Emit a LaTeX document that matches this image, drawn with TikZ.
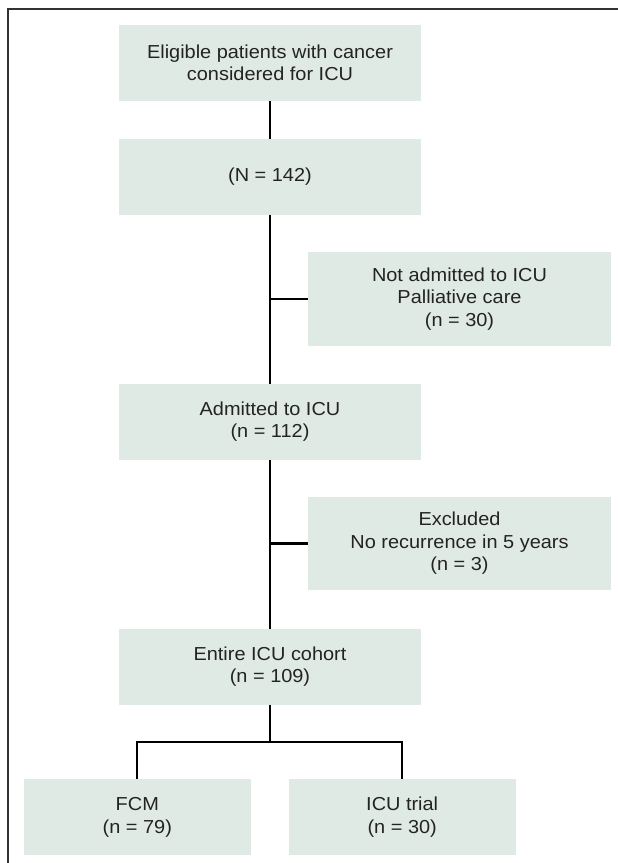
\documentclass[tikz,border=0pt]{standalone}
\usepackage{fontspec}
\setmainfont{Liberation Sans}[FakeStretch=1.06]
\definecolor{boxfill}{RGB}{224,234,229}
\definecolor{boxtext}{RGB}{35,35,35}
\definecolor{framegray}{RGB}{50,50,50}
\begin{document}
\begin{tikzpicture}[x=1pt, y=-1pt,
  box/.style={fill=boxfill, text=boxtext, align=center, inner sep=0pt, minimum width=302.7pt, minimum height=75.7pt, font=\fontsize{18.8}{22.5}\selectfont},
  sidebox/.style={box, minimum width=303pt, minimum height=93.5pt},
  leafbox/.style={box, minimum width=226.7pt},
  link/.style={line width=2.2pt, black}
]
\useasboundingbox (0,0) rectangle (618,863);
\draw[framegray, line width=1.4pt] (8,863) -- (8,9) -- (618,9);

\node[box] (eligible) at (270,62.9) {Eligible patients with cancer\\considered for ICU};
\node[box] (total) at (270,176.9) {(N = 142)};
\node[sidebox] (palliative) at (459.5,298.8) {Not admitted to ICU\\Palliative care\\(n = 30)};
\node[box] (admitted) at (270,421.7) {Admitted to ICU\\(n = 112)};
\node[sidebox] (excluded) at (459.5,543.5) {Excluded\\No recurrence in 5 years\\(n = 3)};
\node[box] (cohort) at (270,666.8) {Entire ICU cohort\\(n = 109)};
\node[leafbox] (fcm) at (137.3,817.2) {FCM\\(n = 79)};
\node[leafbox] (trial) at (402.2,817.2) {ICU trial\\(n = 30)};
\coordinate (split) at (270,741.7);

\draw[link] (eligible) -- (total);
\draw[link] (total) -- (admitted);
\draw[link] (palliative.west) -- (palliative.west -| total.south);
\draw[link] (admitted) -- (cohort);
\draw[link] (excluded.west) -- (excluded.west -| admitted.south);
\draw[link] (cohort) -- (split);
\draw[link] (fcm.north) |- (split) -| (trial.north);
\end{tikzpicture}
\end{document}
